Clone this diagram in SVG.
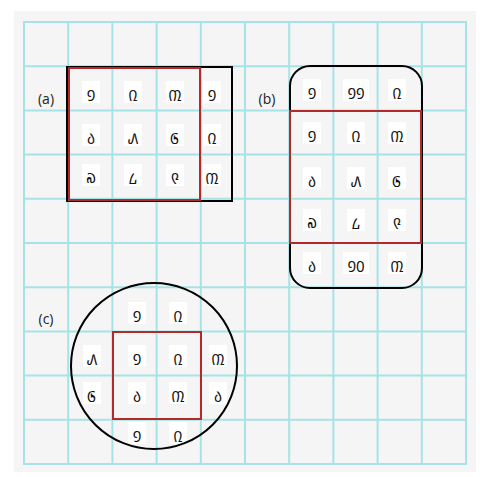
<svg xmlns="http://www.w3.org/2000/svg" width="480" height="477" viewBox="0 0 480 477">
<style>
.g{stroke:#a6e3e6;stroke-width:2;fill:none}
.bx{fill:#ffffff}
.t{font-family:"Noto Sans Mongolian","Mongolian Baiti","DejaVu Sans",sans-serif;font-size:15px;fill:#111;text-anchor:middle;dominant-baseline:central}
.lb{font-family:"Open Sans","Liberation Sans",sans-serif;font-size:14px;fill:#222;text-anchor:middle;dominant-baseline:central}
.red{fill:none;stroke:#b22a2a;stroke-width:2}
.blk{fill:none;stroke:#000;stroke-width:2}
</style>
<rect width="480" height="477" fill="#ffffff"/>
<rect x="14" y="11" width="462" height="461" fill="#f5f5f5"/>
<g id="grid" class="g">
<rect x="24" y="22" width="442" height="442"/>
<path d="M68.2 22V464M112.4 22V464M156.6 22V464M200.8 22V464M245 22V464M289.2 22V464M333.4 22V464M377.6 22V464M421.8 22V464"/>
<path d="M24 66.2H466M24 110.4H466M24 154.6H466M24 198.8H466M24 243H466M24 287.2H466M24 331.4H466M24 375.6H466M24 419.8H466"/>
</g>
<g id="a">
<text class="lb" x="46" y="98">(a)</text>
<g class="bx">
<rect x="82" y="81" width="18" height="22"/><rect x="124" y="81" width="18" height="22"/><rect x="166" y="81" width="18" height="22"/><rect x="203" y="81" width="18" height="22"/>
<rect x="82" y="124" width="18" height="22"/><rect x="124" y="124" width="18" height="22"/><rect x="166" y="124" width="18" height="22"/><rect x="203" y="124" width="18" height="22"/>
<rect x="82" y="164" width="18" height="22"/><rect x="124" y="164" width="18" height="22"/><rect x="166" y="164" width="18" height="22"/><rect x="203" y="164" width="18" height="22"/>
</g>
<text class="t" x="91" y="92">᠑</text><text class="t" x="133" y="92">᠒</text><text class="t" x="175" y="92">᠓</text><text class="t" x="212" y="92">᠑</text>
<text class="t" x="91" y="135">᠔</text><text class="t" x="133" y="135">᠕</text><text class="t" x="175" y="135">᠖</text><text class="t" x="212" y="135">᠒</text>
<text class="t" x="91" y="175">᠗</text><text class="t" x="133" y="175">᠘</text><text class="t" x="175" y="175">᠙</text><text class="t" x="212" y="175">᠓</text>
<rect class="blk" x="67" y="67" width="165" height="134"/>
<rect class="red" x="69" y="68" width="131" height="132"/>
</g>
<g id="b">
<text class="lb" x="267" y="98">(b)</text>
<g class="bx">
<rect x="303" y="79" width="18" height="22"/><rect x="343" y="79" width="26" height="22"/><rect x="388" y="79" width="18" height="22"/>
<rect x="303" y="122" width="18" height="22"/><rect x="347" y="122" width="18" height="22"/><rect x="388" y="122" width="18" height="22"/>
<rect x="303" y="167" width="18" height="22"/><rect x="347" y="167" width="18" height="22"/><rect x="388" y="167" width="18" height="22"/>
<rect x="303" y="209" width="18" height="22"/><rect x="347" y="209" width="18" height="22"/><rect x="388" y="209" width="18" height="22"/>
<rect x="303" y="252" width="18" height="22"/><rect x="343" y="252" width="26" height="22"/><rect x="388" y="252" width="18" height="22"/>
</g>
<text class="t" x="312" y="90">᠑</text><text class="t" x="356" y="90">᠑᠑</text><text class="t" x="397" y="90">᠒</text>
<text class="t" x="312" y="133">᠑</text><text class="t" x="356" y="133">᠒</text><text class="t" x="397" y="133">᠓</text>
<text class="t" x="312" y="178">᠔</text><text class="t" x="356" y="178">᠕</text><text class="t" x="397" y="178">᠖</text>
<text class="t" x="312" y="220">᠗</text><text class="t" x="356" y="220">᠘</text><text class="t" x="397" y="220">᠙</text>
<text class="t" x="312" y="263">᠔</text><text class="t" x="356" y="263">᠑᠐</text><text class="t" x="397" y="263">᠓</text>
<rect class="blk" x="290" y="66" width="132" height="222" rx="20"/>
<rect class="red" x="290" y="111" width="131" height="132"/>
</g>
<g id="c">
<text class="lb" x="46" y="318">(c)</text>
<g class="bx">
<rect x="128" y="302" width="18" height="22"/><rect x="169" y="302" width="18" height="22"/>
<rect x="83" y="345" width="18" height="22"/><rect x="128" y="345" width="18" height="22"/><rect x="169" y="345" width="18" height="22"/><rect x="209" y="345" width="18" height="22"/>
<rect x="83" y="382" width="18" height="22"/><rect x="128" y="382" width="18" height="22"/><rect x="169" y="382" width="18" height="22"/><rect x="209" y="382" width="18" height="22"/>
<rect x="128" y="422" width="18" height="22"/><rect x="169" y="422" width="18" height="22"/>
</g>
<text class="t" x="137" y="313">᠑</text><text class="t" x="178" y="313">᠒</text>
<text class="t" x="92" y="356">᠕</text><text class="t" x="137" y="356">᠑</text><text class="t" x="178" y="356">᠒</text><text class="t" x="218" y="356">᠓</text>
<text class="t" x="92" y="393">᠖</text><text class="t" x="137" y="393">᠔</text><text class="t" x="178" y="393">᠓</text><text class="t" x="218" y="393">᠔</text>
<text class="t" x="137" y="433">᠑</text><text class="t" x="178" y="433">᠒</text>
<circle class="blk" cx="154" cy="366" r="83"/>
<rect class="red" x="113" y="332" width="88" height="87"/>
</g>
</svg>
